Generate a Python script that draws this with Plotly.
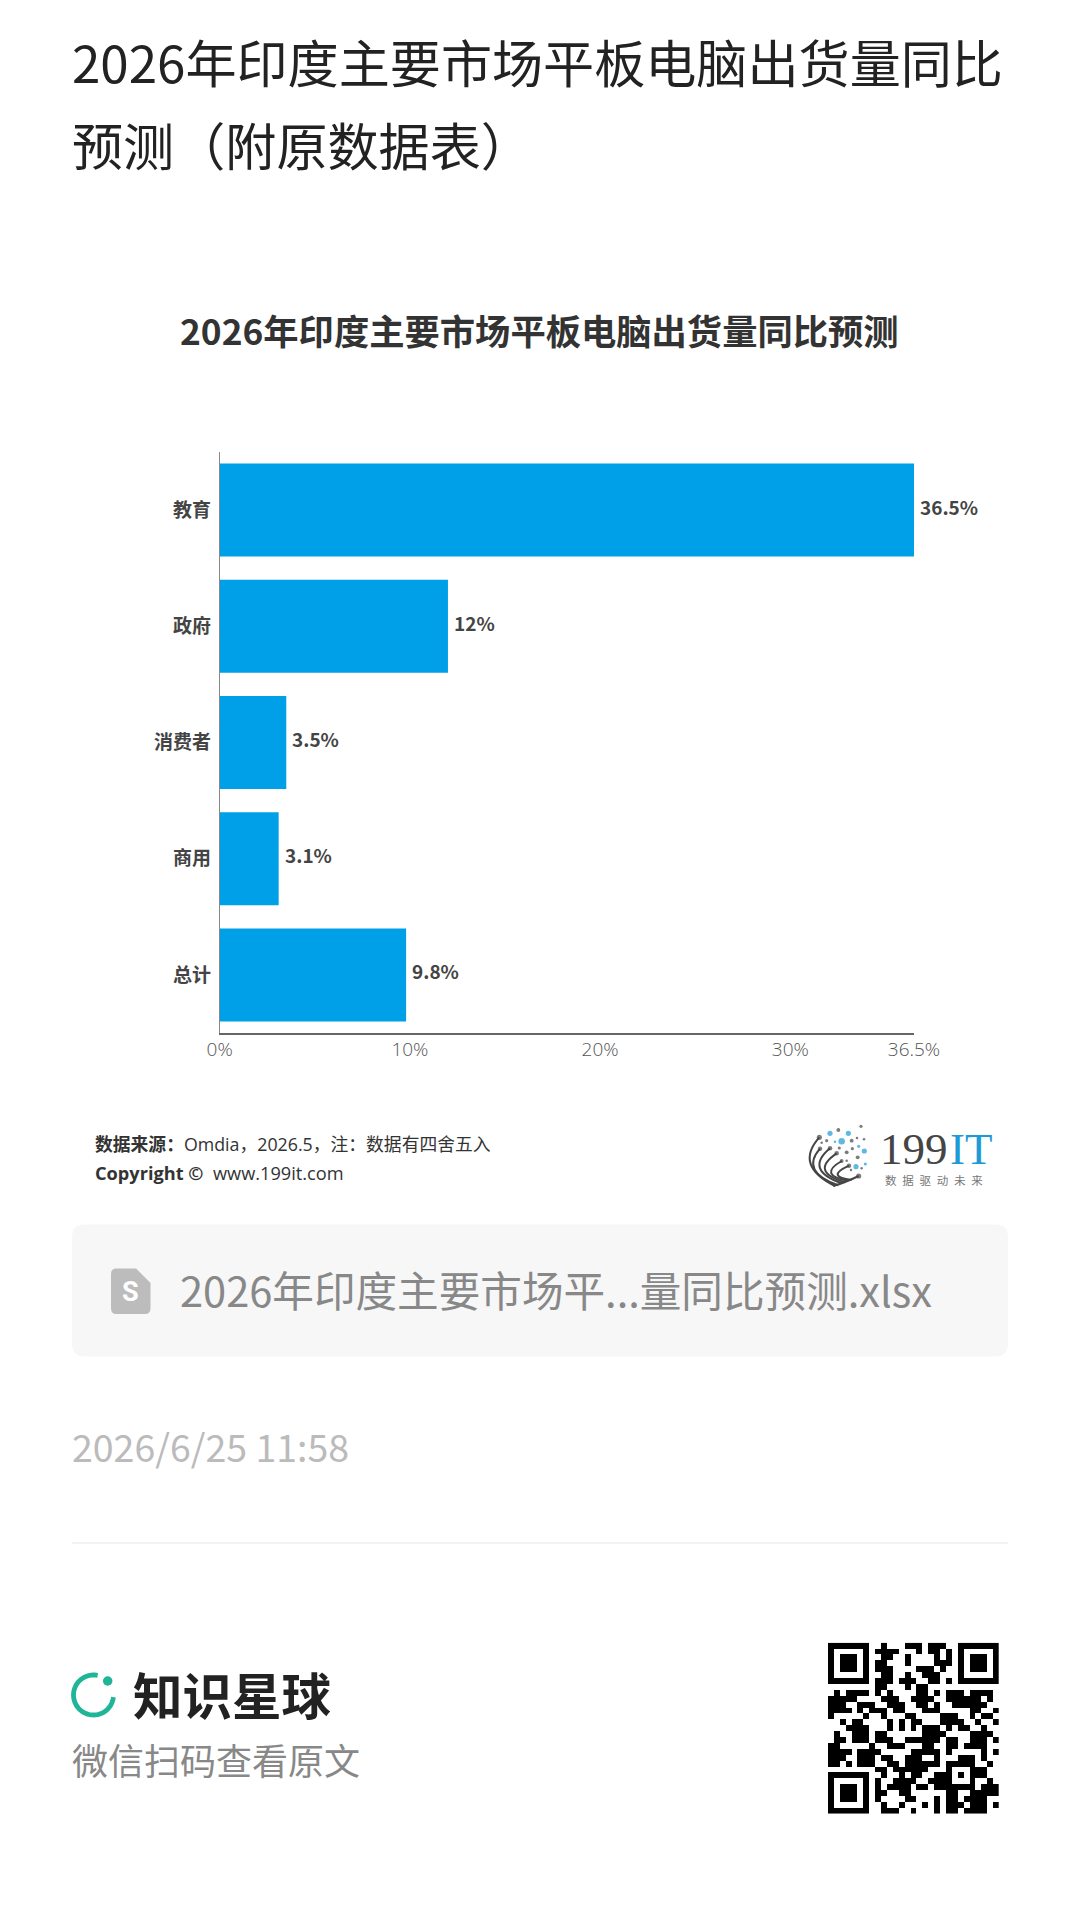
import math
import plotly.graph_objects as go

# ---- chart data ----
categories = ["教育", "政府", "消费者", "商用", "总计"]
values = [36.5, 12, 3.5, 3.1, 9.8]
value_labels = ["36.5%", "12%", "3.5%", "3.1%", "9.8%"]
x_tickvals = [0, 10, 20, 30, 36.5]
x_ticktext = ["0%", "10%", "20%", "30%", "36.5%"]

# ---- page texts ----
page_title_1 = "2026年印度主要市场平板电脑出货量同比"
page_title_2 = "预测（附原数据表）"
chart_title = "2026年印度主要市场平板电脑出货量同比预测"
source_text = "<b>数据来源：</b>Omdia，2026.5，注：数据有四舍五入"
copyright_text = "<b>Copyright ©</b>  www.199it.com"
file_name = "2026年印度主要市场平...量同比预测.xlsx"
date_text = "2026/6/25 11:58"

# ---- QR code: black column runs per row, finder squares are added in code ----
qr_runs = [
    [(9,9),(13,15),(17,19)],
    [(8,11),(15,15),(17,18),(20,20)],
    [(9,10),(13,13),(18,18),(20,20)],
    [(8,9),(13,13),(18,20)],
    [(8,10),(15,17),(19,19)],
    [(9,10),(13,13),(16,18)],
    [(8,10),(12,14),(17,18),(20,20)],
    [(8,9),(13,13),(15,16)],
    [(1,1),(3,6),(8,8),(10,10),(15,16),(18,18),(20,22),(24,26),(27,27)],
    [(0,4),(9,11),(14,17),(20,25),(27,27)],
    [(0,2),(5,7),(10,12),(15,16),(18,18),(21,26)],
    [(0,3),(5,5),(7,9),(11,12),(16,18),(24,25),(28,28)],
    [(0,0),(6,6),(9,9),(13,14),(19,21),(24,24),(26,27)],
    [(2,2),(4,5),(10,10),(12,12),(14,15),(19,22),(25,25),(28,28)],
    [(3,6),(10,10),(12,12),(14,14),(16,18),(20,20),(22,23),(26,26)],
    [(1,1),(4,6),(8,9),(16,19),(24,27)],
    [(1,2),(4,6),(8,10),(13,18),(20,21),(24,26),(28,28)],
    [(0,1),(7,7),(10,12),(16,17),(20,21),(23,26)],
    [(0,3),(5,8),(14,18),(20,20),(26,26),(28,28)],
    [(0,2),(5,7),(9,10),(13,15),(18,18),(22,24),(26,26)],
    [(0,1),(3,3),(5,7),(10,11),(13,18),(20,24),(27,27)],
    [(8,9),(11,16),(20,20),(24,26)],
    [(9,9),(12,12),(14,15),(18,20),(22,22),(24,26)],
    [(8,8),(11,14),(17,20),(24,24),(27,27)],
    [(8,8),(10,13),(15,16),(18,24),(26,28)],
    [(8,9),(12,13),(20,21),(24,28)],
    [(8,8),(13,14),(18,18),(20,21),(23,26)],
    [(9,9),(12,12),(16,16),(18,18),(20,22),(24,26),(28,28)],
    [(9,11),(14,14),(18,18),(20,21),(23,26)],
]

# ---- 199IT logo decoration, in page pixels x3 ----
logo_blue = [(150,100,7),(205,100,7),(185,124,9),(253,153,7),(228,200,7),(165,125,3),(256,192,4),(236,139,4)]
logo_dark = [(175,90,5),(243,79,4),(118,112,7),(140,122,4),(215,122,5),(231,114,3),(252,118,3),(178,144,4),
             (217,146,4),(200,157,5),(233,172,5),(120,146,6),(150,145,6),(170,160,6),(185,183,5),(200,182,3),
             (207,197,6),(213,210,3),(245,205,3),(236,228,7),(125,128,3)]
logo_stems = [((118,112),(42,197),(165,258)),((120,146),(60,215),(175,256)),((150,145),(72,210),(185,250)),
              ((170,160),(88,215),(195,247)),((185,183),(112,225),(205,243)),((207,197),(135,230),(215,240)),
              ((236,228),(190,250),(160,258))]

W, H = 1080, 1913
CJK = "Noto Sans CJK SC"

fig = go.Figure()

# --- main bars ---
fig.add_trace(go.Bar(
    x=values, y=categories, orientation="h",
    marker=dict(color="#00a0e9", line=dict(width=0)),
    cliponaxis=False, width=0.8, hoverinfo="skip",
))

qr_matrix = []
for r, runs in enumerate(qr_runs):
    row = [0] * 29
    for a, b in runs:
        for c in range(a, b + 1):
            row[c] = 1
    qr_matrix.append(row)
def finder(r0, c0):
    for r in range(7):
        for c in range(7):
            edge = r in (0, 6) or c in (0, 6)
            inner = 2 <= r <= 4 and 2 <= c <= 4
            qr_matrix[r0 + r][c0 + c] = 1 if (edge or inner) else 0
finder(0, 0); finder(0, 22); finder(22, 0)

fig.add_trace(go.Heatmap(
    z=qr_matrix, xaxis="x2", yaxis="y2", showscale=False, hoverinfo="skip",
    colorscale=[[0, "#ffffff"], [1, "#000000"]], zmin=0, zmax=1,
))

def logo_pt(p):
    return 780 + p[0] / 3, 1100 + p[1] / 3

for pts, col in ((logo_dark, "#454545"), (logo_blue, "#1e9ad6")):
    xy = [logo_pt(p) for p in pts]
    fig.add_trace(go.Scatter(
        x=[a for a, _ in xy], y=[b for _, b in xy], mode="markers", xaxis="x3", yaxis="y3",
        marker=dict(color=col, size=[p[2] * 2 / 3 + 0.5 for p in pts], line=dict(width=0)),
        hoverinfo="skip", showlegend=False,
    ))

# green dot of the brand mark
fig.add_trace(go.Scatter(
    x=[107.7], y=[1681], mode="markers", xaxis="x3", yaxis="y3",
    marker=dict(color="#1fb598", size=9.5, line=dict(width=0)), hoverinfo="skip", showlegend=False,
))

shapes = []
def s3(**k):
    k.setdefault("xref", "x3"); k.setdefault("yref", "y3"); k.setdefault("layer", "above")
    shapes.append(k)

def round_rect(x0, y0, x1, y1, r):
    return (f"M{x0+r},{y0} L{x1-r},{y0} Q{x1},{y0} {x1},{y0+r} L{x1},{y1-r} Q{x1},{y1} {x1-r},{y1} "
            f"L{x0+r},{y1} Q{x0},{y1} {x0},{y1-r} L{x0},{y0+r} Q{x0},{y0} {x0+r},{y0} Z")

# attachment card
s3(type="path", path=round_rect(72, 1224.5, 1008, 1356.5, 13), fillcolor="#f7f7f7", line=dict(width=0), layer="below")
# file icon
s3(type="path", path="M116,1268.5 L136,1268.5 L150.5,1283 L150.5,1308 Q150.5,1314 145,1314 L116,1314 Q111,1314 111,1308 L111,1274 Q111,1268.5 116,1268.5 Z",
   fillcolor="#bcbcbc", line=dict(width=0))
# separator
s3(type="line", x0=72, x1=1008, y0=1543, y1=1543, line=dict(color="#eeeeee", width=1.5), layer="below")
# green arc
cx, cy, rad = 93.5, 1695, 20
arc = []
for i in range(61):
    a = math.radians(-78 - i * (282 - 6) / 60)
    arc.append((cx + rad * math.cos(a), cy + rad * math.sin(a)))
s3(type="path", path="M" + " L".join(f"{a:.2f},{b:.2f}" for a, b in arc),
   line=dict(color="#1fb598", width=4.8), fillcolor="rgba(0,0,0,0)")
# logo stems
for p0, c, p1 in logo_stems:
    a, b, d = logo_pt(p0), logo_pt(c), logo_pt(p1)
    s3(type="path", path=f"M{a[0]:.1f},{a[1]:.1f} Q{b[0]:.1f},{b[1]:.1f} {d[0]:.1f},{d[1]:.1f}",
       line=dict(color="#454545", width=2), fillcolor="rgba(0,0,0,0)")

anns = []
def txt(x, y, text, size, color, anchor="left", weight=400, family=CJK):
    anns.append(dict(x=x, y=y, xref="x3", yref="y3", text=text, showarrow=False, xanchor=anchor,
                     yanchor="middle", align=anchor, borderpad=0,
                     font=dict(family=family, size=size, color=color, weight=weight)))

# value labels, placed from the data
for cat, val, lab in zip(categories, values, value_labels):
    anns.append(dict(x=val, y=cat, xref="x", yref="y", text=lab, showarrow=False, xanchor="left",
                     yanchor="middle", xshift=5, yshift=4, borderpad=0,
                     font=dict(family=CJK, size=19, color="#444444", weight=700)))

txt(71, 61, page_title_1, 51.1, "#222222")
txt(71, 144, page_title_2, 51.1, "#222222")
txt(539.5, 329.5, chart_title, 35.3, "#333333", "center", 700)
txt(94, 1144, source_text, 17.8, "#333333", family="Open Sans, " + CJK)
txt(94, 1173, copyright_text, 18.2, "#333333", family="Open Sans, " + CJK)
txt(879, 1149, "199", 45, "#454545", family="Liberation Serif")
txt(949, 1149, "IT", 45, "#1e9ad6", family="Liberation Serif")
txt(884, 1180, "数\u2002据\u2002驱\u2002动\u2002未\u2002来", 11.5, "#777777")
txt(130.5, 1292, "S", 27, "#ffffff", "center", 700, "Roboto")
txt(179, 1289, file_name, 41.6, "#888888")
txt(71, 1445.5, date_text, 37.5, "#bbbbbb")
txt(131.5, 1693, "知识星球", 49.5, "#222222", weight=700)
txt(71, 1759, "微信扫码查看原文", 36, "#888888")

fig.update_layout(
    width=W, height=H, margin=dict(l=0, r=0, t=0, b=0, autoexpand=False), autosize=False,
    paper_bgcolor="#ffffff", plot_bgcolor="rgba(0,0,0,0)", showlegend=False,
    shapes=shapes, annotations=anns, bargap=0.2,
    xaxis=dict(domain=[219.7 / W, 914 / W], range=[0, 36.5], tickmode="array",
               tickvals=x_tickvals, ticktext=x_ticktext, showgrid=False, zeroline=False,
               showline=True, linecolor="#666666", linewidth=1.5, ticks="", ticklabelstandoff=-2,
               tickfont=dict(family="Open Sans", size=19, color="#555555", weight=300)),
    yaxis=dict(domain=[(H - 1033) / H, (H - 452) / H], autorange="reversed", type="category",
               showgrid=False, zeroline=False, showline=True, linecolor="#888888", linewidth=1,
               ticks="outside", ticklen=4, tickcolor="rgba(0,0,0,0)",
               tickfont=dict(family=CJK, size=19, color="#444444", weight=700)),
    xaxis2=dict(domain=[828 / W, 998.7 / W], range=[-0.5, 28.5], visible=False, anchor="y2", fixedrange=True),
    yaxis2=dict(domain=[(H - 1813.7) / H, (H - 1642.7) / H], range=[28.5, -0.5], visible=False, anchor="x2", fixedrange=True),
    xaxis3=dict(domain=[0, 1], range=[0, W], visible=False, anchor="y3", fixedrange=True),
    yaxis3=dict(domain=[0, 1], range=[H, 0], visible=False, anchor="x3", fixedrange=True),
)

fig.write_html("out.html", config={"displayModeBar": False},
               post_script="document.body.style.margin='0';document.body.style.overflow='hidden';")
